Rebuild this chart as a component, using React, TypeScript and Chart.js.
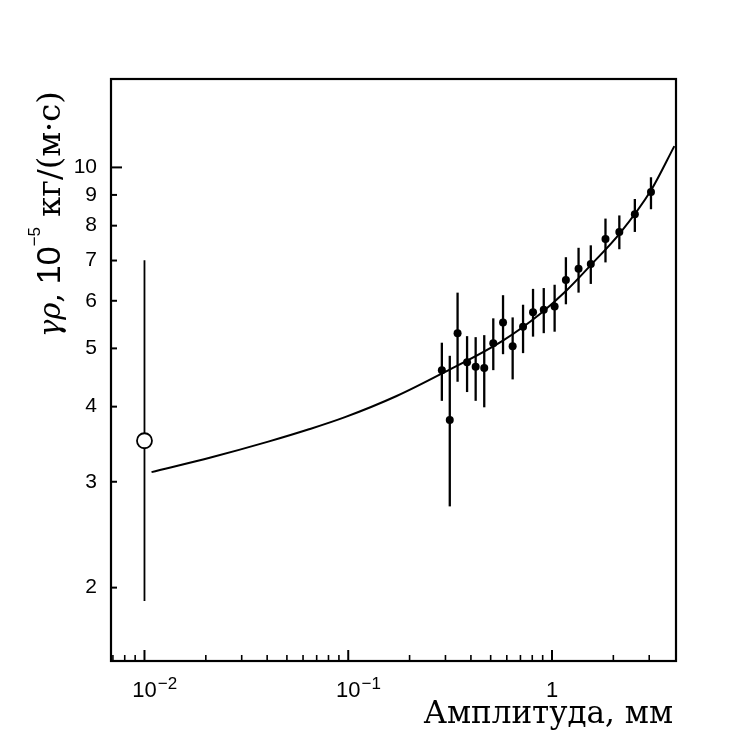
import React, { useEffect, useRef } from 'react';
import { Chart, registerables } from 'chart.js';

Chart.register(...registerables);

// Axis ranges (log scales)
const xMin = 0.00685;
const xMax = 4.06;
const yMin = 1.51;
const yMax = 14.03;

// Measured points (amplitude, mm) and γρ (10^-5 kg/(m·s)) with error bars
const amplitude = [0.288, 0.315, 0.344, 0.383, 0.422, 0.465, 0.515, 0.575, 0.641, 0.721, 0.807, 0.911, 1.03, 1.17, 1.35, 1.55, 1.83, 2.14, 2.55, 3.06];
const gammaRho = [4.6, 3.8, 5.3, 4.74, 4.66, 4.64, 5.1, 5.52, 5.04, 5.43, 5.74, 5.8, 5.87, 6.5, 6.78, 6.91, 7.6, 7.81, 8.36, 9.1];
const errLow = [4.09, 2.73, 4.4, 4.23, 4.09, 3.99, 4.6, 4.89, 4.44, 4.91, 5.23, 5.3, 5.33, 5.92, 6.19, 6.4, 6.95, 7.31, 7.81, 8.52];
const errHigh = [5.11, 4.86, 6.19, 5.24, 5.22, 5.26, 5.61, 6.13, 5.63, 5.91, 6.28, 6.3, 6.38, 7.09, 7.35, 7.42, 8.22, 8.32, 8.86, 9.63];

// Reference point (open circle)
const refAmplitude = [0.01];
const refValue = [3.51];
const refLow = [1.9];
const refHigh = [7.01];

// Fitted curve
const fitAmplitude = [0.01083, 0.02135, 0.0405, 0.0636, 0.0964, 0.1728, 0.2884, 0.5767, 0.8733, 1.171, 1.554, 2.157, 3.062, 3.985];
const fitValue = [3.113, 3.295, 3.498, 3.664, 3.842, 4.166, 4.542, 5.157, 5.705, 6.229, 6.885, 7.776, 9.161, 10.85];

// Ticks
const yTickValues = [2, 3, 4, 5, 6, 7, 8, 9, 10];
const yTickLabels = ['2', '3', '4', '5', '6', '7', '8', '9', '10'];
const xMajorTicks = [0.01, 0.1, 1];
const xMajorBase = ['10', '10', '1'];
const xMajorExp = ['−2', '−1', ''];
const xMinorTicks = [0.007, 0.008, 0.009, 0.02, 0.03, 0.04, 0.05, 0.06, 0.07, 0.08, 0.09, 0.2, 0.3, 0.4, 0.5, 0.6, 0.7, 0.8, 0.9, 2, 3];

const xTitle = 'Амплитуда, мм';

const SANS = '"Liberation Sans", Arial, sans-serif';
const SERIF = '"DejaVu Serif", serif';

const decor = {
  id: 'decor',
  beforeDatasetsDraw(chart: any) {
    const { ctx, scales } = chart;
    const xs = scales.x;
    const ys = scales.y;
    ctx.save();
    ctx.strokeStyle = '#000';
    ctx.lineCap = 'butt';
    ctx.lineWidth = 2.3;
    for (let i = 0; i < amplitude.length; i++) {
      const px = xs.getPixelForValue(amplitude[i]);
      ctx.beginPath();
      ctx.moveTo(px, ys.getPixelForValue(errLow[i]));
      ctx.lineTo(px, ys.getPixelForValue(errHigh[i]));
      ctx.stroke();
    }
    ctx.lineWidth = 1.8;
    for (let i = 0; i < refAmplitude.length; i++) {
      const px = xs.getPixelForValue(refAmplitude[i]);
      ctx.beginPath();
      ctx.moveTo(px, ys.getPixelForValue(refLow[i]));
      ctx.lineTo(px, ys.getPixelForValue(refHigh[i]));
      ctx.stroke();
    }
    ctx.restore();
  },
  afterDraw(chart: any) {
    const { ctx, chartArea, scales } = chart;
    const xs = scales.x;
    const ys = scales.y;
    const { left, right, top, bottom } = chartArea;
    ctx.save();
    ctx.strokeStyle = '#000';
    ctx.fillStyle = '#000';
    // frame
    ctx.lineWidth = 2.2;
    ctx.strokeRect(left, top, right - left, bottom - top);

    // y ticks (inside)
    ctx.lineWidth = 2;
    yTickValues.forEach((v) => {
      const py = ys.getPixelForValue(v);
      const len = v === 10 ? 11 : 6;
      ctx.beginPath();
      ctx.moveTo(left, py);
      ctx.lineTo(left + len, py);
      ctx.stroke();
    });

    // x ticks (inside)
    ctx.lineWidth = 1.6;
    xMinorTicks.forEach((v) => {
      const px = xs.getPixelForValue(v);
      ctx.beginPath();
      ctx.moveTo(px, bottom);
      ctx.lineTo(px, bottom - 6);
      ctx.stroke();
    });
    ctx.lineWidth = 2;
    xMajorTicks.forEach((v) => {
      const px = xs.getPixelForValue(v);
      ctx.beginPath();
      ctx.moveTo(px, bottom);
      ctx.lineTo(px, bottom - 11);
      ctx.stroke();
    });

    // x tick labels with superscripts
    ctx.textBaseline = 'alphabetic';
    xMajorTicks.forEach((v, i) => {
      const px = xs.getPixelForValue(v);
      ctx.font = `22px ${SANS}`;
      const w = ctx.measureText(xMajorBase[i]).width;
      ctx.textAlign = 'left';
      ctx.fillText(xMajorBase[i], px - w / 2, 697);
      if (xMajorExp[i]) {
        ctx.font = `17px ${SANS}`;
        ctx.fillText(xMajorExp[i], px + w / 2 + 1, 689);
      }
    });

    // x title
    ctx.font = `31px ${SERIF}`;
    ctx.textAlign = 'right';
    ctx.fillText(xTitle, 673, 723);

    // y title (rotated)
    ctx.translate(60, 337);
    ctx.rotate(-Math.PI / 2);
    ctx.textAlign = 'left';
    const parts = [
      { t: 'γρ', f: `italic 29px ${SERIF}`, dy: 0 },
      { t: ', ', f: `29px ${SERIF}`, dy: 0 },
      { t: '10', f: `34px ${SANS}`, dy: 0 },
      { t: '−5', f: `17px ${SANS}`, dy: -20 },
      { t: ' кг/(м·с)', f: `32px ${SERIF}`, dy: 0 },
    ];
    let cx = 0;
    parts.forEach((p) => {
      ctx.font = p.f;
      ctx.fillText(p.t, cx, p.dy);
      cx += ctx.measureText(p.t).width;
    });
    ctx.restore();
  },
};

export default function App() {
  const ref = useRef<HTMLCanvasElement>(null);
  useEffect(() => {
    const canvas = ref.current;
    if (!canvas) return;
    const chart = new Chart(canvas, {
      type: 'scatter',
      data: {
        datasets: [
          {
            label: 'points',
            data: amplitude.map((x, i) => ({ x, y: gammaRho[i] })),
            pointRadius: 4,
            pointBackgroundColor: '#000',
            pointBorderWidth: 0,
            showLine: false,
            order: 1,
          },
          {
            label: 'reference',
            data: refAmplitude.map((x, i) => ({ x, y: refValue[i] })),
            pointRadius: 7.5,
            pointBackgroundColor: '#fff',
            pointBorderColor: '#000',
            pointBorderWidth: 1.8,
            showLine: false,
            order: 2,
          },
          {
            label: 'fit',
            data: fitAmplitude.map((x, i) => ({ x, y: fitValue[i] })),
            showLine: true,
            borderColor: '#000',
            borderWidth: 2,
            pointRadius: 0,
            cubicInterpolationMode: 'monotone',
            order: 3,
          },
        ],
      },
      options: {
        animation: false,
        responsive: false,
        devicePixelRatio: 1,
        layout: { padding: { top: 79, right: 72, left: 0, bottom: 0 } },
        plugins: { legend: { display: false }, tooltip: { enabled: false } },
        scales: {
          x: {
            type: 'logarithmic',
            min: xMin,
            max: xMax,
            position: 'bottom',
            grid: { display: false, drawTicks: false },
            border: { display: false },
            ticks: { display: false },
            afterFit: (s: any) => {
              s.height = 71;
            },
          },
          y: {
            type: 'logarithmic',
            min: yMin,
            max: yMax,
            position: 'left',
            grid: { display: false, drawTicks: false },
            border: { display: false },
            afterBuildTicks: (s: any) => {
              s.ticks = yTickValues.map((v) => ({ value: v }));
            },
            ticks: {
              autoSkip: false,
              padding: 14,
              color: '#000',
              font: { family: SANS, size: 21 },
              callback: (value: any) => {
                const idx = yTickValues.indexOf(Number(value));
                return idx >= 0 ? yTickLabels[idx] : '';
              },
            },
            afterFit: (s: any) => {
              s.width = 111;
            },
          },
        },
      } as any,
      plugins: [decor],
    });
    return () => chart.destroy();
  }, []);
  return (
    <div style={{ position: 'fixed', left: 0, top: 0, width: 748, height: 732, background: '#fff' }}>
      <canvas ref={ref} width={748} height={732} style={{ display: 'block', width: 748, height: 732 }} />
    </div>
  );
}
